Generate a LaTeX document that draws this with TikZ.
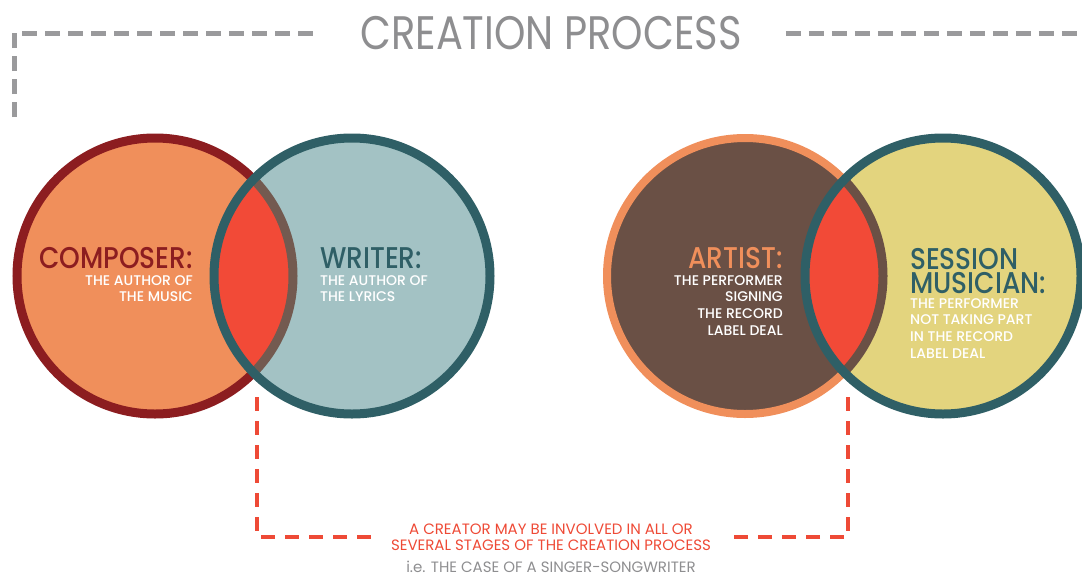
\documentclass[tikz,border=0pt]{standalone}
\usepackage{fontspec}
\setmainfont{Poppins}
\newfontfamily\titlefont{Poppins}[FakeStretch=0.85]
\newfontfamily\headfont{Poppins Medium}[FakeStretch=0.88]
\newfontfamily\subfont{Poppins Medium}
\usetikzlibrary{positioning}

\definecolor{composerfill}{HTML}{F08F5B}
\definecolor{composerring}{HTML}{8C1D20}
\definecolor{writerfill}{HTML}{A3C2C4}
\definecolor{tealring}{HTML}{2F5F66}
\definecolor{lensred}{HTML}{F24A37}
\definecolor{mixbrown}{HTML}{735A50}
\definecolor{artistfill}{HTML}{6A5045}
\definecolor{sessionfill}{HTML}{E3D47E}
\definecolor{titlegrey}{HTML}{8E8E90}
\definecolor{framegrey}{HTML}{9A9A9C}
\definecolor{linkred}{HTML}{EE4A36}

\begin{document}
\begin{tikzpicture}[x=1pt, y=-1pt]
  \tikzstyle{ring} = [line width=9pt]
  \tikzstyle{head} = [inner sep=0pt, text depth=0pt, font=\headfont\fontsize{30}{24}\selectfont]
  \tikzstyle{sub} = [inner sep=0pt, text=white, font=\subfont\fontsize{14}{16.8}\selectfont]
  \tikzstyle{notetext} = [inner sep=0pt, font=\fontsize{15}{16}\selectfont]
  \tikzstyle{greydash} = [draw=framegrey, line width=5pt, dash pattern=on 15pt off 8pt]
  \tikzstyle{reddash} = [draw=linkred, line width=4.5pt, dash pattern=on 14pt off 10pt]

  \useasboundingbox (0,0) rectangle (1082,574);

  \coordinate (composer) at (155,276);
  \coordinate (writer) at (352,276);
  \coordinate (artist) at (745,276);
  \coordinate (session) at (943,276);

  \fill[composerfill] (composer) circle (138);
  \draw[ring, composerring] (composer) circle (138);
  \fill[writerfill] (writer) circle (138);
  \begin{scope}
    \clip (composer) circle (138);
    \fill[lensred] (writer) circle (138);
  \end{scope}
  \begin{scope}
    \clip (writer) circle (138);
    \draw[ring, mixbrown] (composer) circle (138);
  \end{scope}
  \draw[ring, tealring] (writer) circle (138);

  \fill[artistfill] (artist) circle (138);
  \draw[ring, composerfill, line width=8pt] (artist) circle (138);
  \fill[sessionfill] (session) circle (138);
  \begin{scope}
    \clip (artist) circle (138);
    \fill[lensred] (session) circle (138);
  \end{scope}
  \begin{scope}
    \clip (session) circle (138);
    \draw[ring, artistfill] (artist) circle (138);
  \end{scope}
  \draw[ring, tealring] (session) circle (138);

  \node [inner sep=0pt, text=titlegrey, font=\titlefont\fontsize{47}{47}\selectfont] (title) at (551,33) {CREATION PROCESS};
  \coordinate (framecorner) at (14,33);
  \coordinate (frametail) at (14,117);
  \coordinate (frameright) at (1082,33);
  \draw[greydash] (frametail) -- (framecorner) -- ([xshift=-44pt]title.west);
  \draw[greydash] ([xshift=44pt]title.east) -- (frameright);

  \node [head, text=composerring, anchor=base east] (composerhead) at (193,268) {COMPOSER:};
  \node [sub, anchor=north east, align=right] (composersub) at (193,275) {THE AUTHOR OF\\THE MUSIC};
  \node [head, text=tealring, anchor=base west] (writerhead) at (320,268) {WRITER:};
  \node [sub, anchor=north west, align=left] (writersub) at (320,275) {THE AUTHOR OF\\THE LYRICS};
  \node [head, text=composerfill, anchor=base east] (artisthead) at (783,268) {ARTIST:};
  \node [sub, anchor=north east, align=right] (artistsub) at (783,275) {THE PERFORMER\\SIGNING\\THE RECORD\\LABEL DEAL};
  \node [head, text=tealring, anchor=north west, align=left] (sessionhead) at (910,248) {SESSION\\MUSICIAN:};
  \node [sub, anchor=north west, align=left] (sessionsub) at (910,298) {THE PERFORMER\\NOT TAKING PART\\IN THE RECORD\\LABEL DEAL};

  \coordinate (leftlens) at (257,397);
  \coordinate (rightlens) at (848,397);
  \node [notetext, text=linkred, align=center, inner xsep=13pt] (note) at (551,537) {A CREATOR MAY BE INVOLVED IN ALL OR\\SEVERAL STAGES OF THE CREATION PROCESS};
  \node [notetext, text=titlegrey, below=10pt of note] (singer) {i.e. THE CASE OF A SINGER-SONGWRITER};
  \draw[reddash] (leftlens) |- (note.west);
  \draw[reddash] (rightlens) |- (note.east);
\end{tikzpicture}
\end{document}
